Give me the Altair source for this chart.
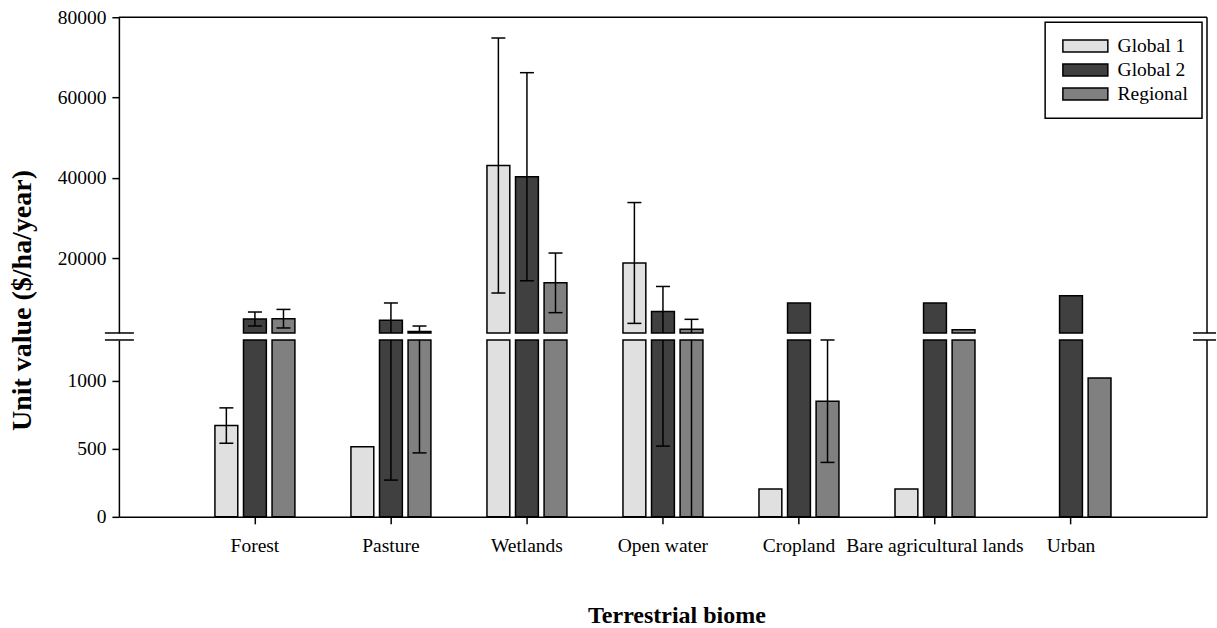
import altair as alt
import pandas as pd

categories = ["Forest", "Pasture", "Wetlands", "Open water", "Cropland",
              "Bare agricultural lands", "Urban"]
series_names = ["Global 1", "Global 2", "Regional"]
series_colors = ["#e0e0e0", "#404040", "#808080"]

global1 = [671, 515, 43090, 18830, 205, 205, None]
global1_err = [130, None, 31740, 15040, None, None, None]
global2 = [4880, 4570, 40300, 6750, 8850, 8850, 10700]
global2_err = [1740, 4300, 25900, 6230, None, None, None]
regional = [4960, 1800, 13880, 2300, 850, 2200, 1020]
regional_err = [2310, 1330, 7420, 2500, 450, None, None]

upper_ticks = [20000, 40000, 60000, 80000]
lower_ticks = [0, 500, 1000]
LOWER_MAX = 1300
UPPER_MIN = 1400
UPPER_MAX = 80000

W = 1089
H_UP = 316
H_LO = 177
FONT = "Liberation Serif"
LABEL_SIZE = 19.5

rows = []
for i, cat in enumerate(categories):
    for s, vals, errs in zip(series_names, [global1, global2, regional],
                             [global1_err, global2_err, regional_err]):
        v = vals[i]
        if v is None:
            continue
        rows.append(dict(cat=cat, series=s, value=v, err=errs[i]))

up_bars, lo_bars, up_rules, lo_rules, up_caps, lo_caps = [], [], [], [], [], []
for r in rows:
    v, e = r["value"], r["err"]
    base = dict(cat=r["cat"], series=r["series"])
    if v > UPPER_MIN:
        up_bars.append(dict(base, y=UPPER_MIN, y2=v))
    lo_bars.append(dict(base, y=0, y2=min(v, LOWER_MAX)))
    if e is not None:
        lo_raw = v - e
        lo_v = max(lo_raw, 0)
        hi_v = v + e
        if hi_v > UPPER_MIN:
            up_rules.append(dict(base, y=max(lo_v, UPPER_MIN), y2=hi_v))
            up_caps.append(dict(base, y=hi_v))
        else:
            lo_caps.append(dict(base, y=hi_v))
        if lo_v < LOWER_MAX:
            lo_rules.append(dict(base, y=lo_v, y2=min(hi_v, LOWER_MAX)))
        if lo_raw > 0:
            if lo_raw > UPPER_MIN:
                up_caps.append(dict(base, y=lo_raw))
            else:
                lo_caps.append(dict(base, y=lo_raw))

x_scale = alt.Scale(domain=categories, paddingInner=0.412, paddingOuter=0.706)
xoff_scale = alt.Scale(domain=series_names, paddingInner=0.2, paddingOuter=0)
fill_scale = alt.Scale(domain=series_names, range=series_colors)

legend = alt.Legend(
    title=None, orient="top-right", offset=5,
    strokeColor="black", fillColor="white", padding=14,
    symbolType="M-1,-1H6.5V1H-1Z", symbolSize=144,
    symbolStrokeColor="black", symbolStrokeWidth=1.5, symbolOpacity=1,
    labelFont=FONT, labelFontSize=LABEL_SIZE, labelColor="black",
    labelOffset=39, rowPadding=3,
)

one = pd.DataFrame({"a": [0]})
line_style = dict(color="black", strokeWidth=1.5)


def panel(bars, rules, caps, yscale, yaxis, xaxis, h, top):
    xenc = alt.X("cat:N", scale=x_scale, axis=xaxis, sort=categories)
    xo = alt.XOffset("series:N", scale=xoff_scale, sort=series_names)
    b = alt.Chart(pd.DataFrame(bars)).mark_bar(stroke="black", strokeWidth=1.5, opacity=1).encode(
        x=xenc, xOffset=xo,
        y=alt.Y("y:Q", scale=yscale, axis=yaxis),
        y2="y2:Q",
        fill=alt.Fill("series:N", scale=fill_scale, legend=legend, sort=series_names),
    )
    layers = [b]
    if rules:
        layers.append(alt.Chart(pd.DataFrame(rules)).mark_rule(**line_style).encode(
            x=xenc, xOffset=xo, y=alt.Y("y:Q", scale=yscale), y2="y2:Q"))
    if caps:
        layers.append(alt.Chart(pd.DataFrame(caps)).mark_tick(
            color="black", thickness=1.5, size=14, orient="horizontal", opacity=1).encode(
            x=xenc, xOffset=xo, y=alt.Y("y:Q", scale=yscale)))
    # right border
    layers.append(alt.Chart(one).mark_rule(**line_style).encode(
        x=alt.value(W), y=alt.value(0), y2=alt.value(h)))
    ybreak = h if top else 0
    layers.append(alt.Chart(one).mark_rule(**line_style).encode(
        x=alt.value(-14), x2=alt.value(15), y=alt.value(ybreak)))
    layers.append(alt.Chart(one).mark_rule(**line_style).encode(
        x=alt.value(W - 14), x2=alt.value(W + 9), y=alt.value(ybreak)))
    if top:
        layers.append(alt.Chart(one).mark_rule(**line_style).encode(
            x=alt.value(0), x2=alt.value(W), y=alt.value(0)))
    return alt.layer(*layers).properties(width=W, height=h)


common_y = dict(domainColor="black", domainWidth=1.5, tickColor="black", tickWidth=1.5,
                tickSize=7, labelFont=FONT, labelFontSize=LABEL_SIZE, labelColor="black",
                labelPadding=6, grid=False)

upper = panel(
    up_bars, up_rules, up_caps,
    alt.Scale(domain=[UPPER_MIN, UPPER_MAX], nice=False, zero=False),
    alt.Axis(values=upper_ticks, format="d", title="Unit value ($/ha/year)",
             titleFont=FONT, titleFontSize=28, titleFontWeight="bold", titleColor="black",
             titleX=-96, titleY=283, titleBaseline="middle", titleAngle=270,
             **common_y),
    None, H_UP, True)

lower = panel(
    lo_bars, lo_rules, lo_caps,
    alt.Scale(domain=[0, LOWER_MAX], nice=False),
    alt.Axis(values=lower_ticks, format="d", title=None, **common_y),
    alt.Axis(title="Terrestrial biome", labelAngle=0, labelFont=FONT, labelFontSize=LABEL_SIZE,
             labelColor="black", labelPadding=13, tickSize=7, tickColor="black",
             tickWidth=1.5, domainColor="black", domainWidth=1.5, grid=False,
             titleFont=FONT, titleFontSize=24, titleFontWeight="bold", titleColor="black",
             titleX=558, titleY=106, titleBaseline="alphabetic"),
    H_LO, False)

chart = alt.vconcat(upper, lower, spacing=7, bounds="flush").resolve_scale(
    x="shared", fill="shared"
).properties(
    padding={"left": 9, "top": 7, "right": 0, "bottom": 0},
    background="white",
).configure_view(stroke=None).configure_legend(strokeWidth=1.5)

chart.save("out.html", embed_options={"renderer": "svg", "actions": False})
